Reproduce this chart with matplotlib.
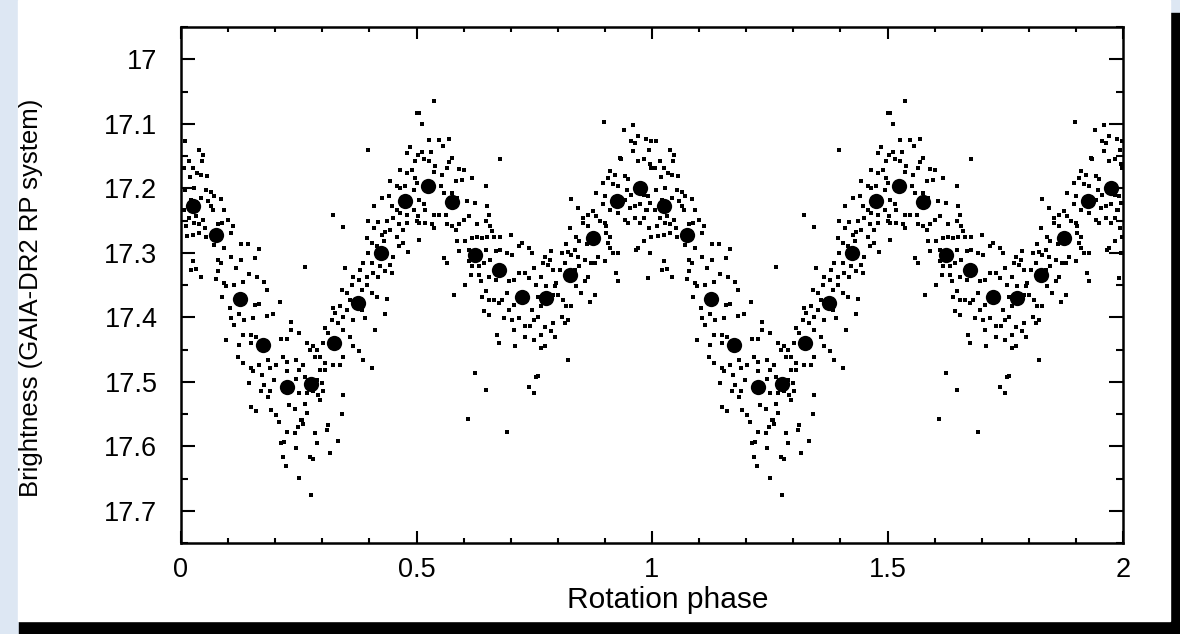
import numpy as np
import matplotlib
matplotlib.use('Agg')
import matplotlib.pyplot as plt
from matplotlib.patches import Rectangle
from matplotlib.ticker import MultipleLocator, FuncFormatter

# binned light curve, 20 bins per rotation
bin_phase = [0.025, 0.075, 0.125, 0.175, 0.225, 0.275, 0.325, 0.375, 0.425, 0.475,
             0.525, 0.575, 0.625, 0.675, 0.725, 0.775, 0.825, 0.875, 0.925, 0.975]
bin_mag = [17.228, 17.273, 17.371, 17.443, 17.508, 17.504, 17.440, 17.378, 17.300, 17.220,
           17.196, 17.222, 17.303, 17.326, 17.368, 17.370, 17.334, 17.277, 17.220, 17.199]

dots = [
    (0.008, 17.127), (0.039, 17.141), (0.046, 17.149), (0.044, 17.157), (0.016, 17.158),
    (0.007, 17.168), (0.025, 17.169), (0.034, 17.176), (0.042, 17.179), (0.055, 17.181),
    (0.020, 17.182), (0.008, 17.202), (0.028, 17.199), (0.053, 17.202), (0.064, 17.206),
    (0.071, 17.212), (0.085, 17.216), (0.021, 17.218), (0.042, 17.215), (0.057, 17.219),
    (0.007, 17.233), (0.018, 17.246), (0.032, 17.243), (0.046, 17.249), (0.064, 17.228),
    (0.067, 17.233), (0.092, 17.234), (0.011, 17.259), (0.028, 17.254), (0.039, 17.256),
    (0.050, 17.262), (0.078, 17.256), (0.088, 17.254), (0.099, 17.249), (0.110, 17.259),
    (0.013, 17.274), (0.025, 17.272), (0.039, 17.270), (0.053, 17.275), (0.106, 17.270),
    (0.071, 17.288), (0.092, 17.293), (0.127, 17.286), (0.142, 17.286), (0.166, 17.294),
    (0.025, 17.313), (0.021, 17.326), (0.032, 17.325), (0.042, 17.338), (0.078, 17.311),
    (0.085, 17.316), (0.106, 17.306), (0.117, 17.324), (0.127, 17.312), (0.157, 17.308),
    (0.078, 17.329), (0.074, 17.340), (0.092, 17.347), (0.096, 17.352), (0.113, 17.350),
    (0.131, 17.345), (0.145, 17.333), (0.161, 17.338), (0.177, 17.345), (0.183, 17.357),
    (0.088, 17.368), (0.103, 17.386), (0.106, 17.401), (0.113, 17.412), (0.124, 17.395),
    (0.134, 17.405), (0.152, 17.401), (0.157, 17.381), (0.166, 17.380), (0.183, 17.398),
    (0.195, 17.395), (0.211, 17.376), (0.096, 17.435), (0.124, 17.443), (0.131, 17.427),
    (0.149, 17.427), (0.149, 17.440), (0.159, 17.431), (0.212, 17.433), (0.226, 17.433),
    (0.234, 17.420), (0.234, 17.407), (0.251, 17.425), (0.120, 17.461), (0.131, 17.471),
    (0.149, 17.479), (0.152, 17.484), (0.166, 17.474), (0.173, 17.489), (0.184, 17.466),
    (0.188, 17.479), (0.202, 17.474), (0.216, 17.461), (0.226, 17.469), (0.244, 17.466),
    (0.251, 17.482), (0.145, 17.502), (0.170, 17.515), (0.188, 17.515), (0.185, 17.523),
    (0.177, 17.505), (0.198, 17.497), (0.226, 17.484), (0.244, 17.495), (0.251, 17.518),
    (0.149, 17.539), (0.159, 17.545), (0.191, 17.544), (0.202, 17.552), (0.209, 17.562),
    (0.230, 17.536), (0.241, 17.543), (0.212, 17.595), (0.219, 17.593), (0.226, 17.578),
    (0.241, 17.579), (0.244, 17.602), (0.216, 17.616), (0.223, 17.631), (0.251, 17.649),
    (0.248, 17.570), (0.255, 17.559),
    # 0.25 - 0.5
    (0.501, 17.084), (0.486, 17.136), (0.479, 17.145), (0.497, 17.158), (0.504, 17.148),
    (0.465, 17.171), (0.479, 17.176), (0.490, 17.171), (0.497, 17.184), (0.501, 17.192),
    (0.444, 17.189), (0.458, 17.197), (0.465, 17.199), (0.476, 17.197), (0.494, 17.202),
    (0.426, 17.215), (0.441, 17.212), (0.448, 17.228), (0.458, 17.233), (0.465, 17.238),
    (0.479, 17.241), (0.494, 17.233), (0.504, 17.243), (0.409, 17.228), (0.398, 17.250),
    (0.419, 17.253), (0.437, 17.251), (0.451, 17.246), (0.462, 17.256), (0.479, 17.254),
    (0.501, 17.251), (0.409, 17.262), (0.426, 17.272), (0.433, 17.268), (0.444, 17.264),
    (0.458, 17.275), (0.472, 17.264), (0.398, 17.140), (0.322, 17.242), (0.344, 17.260),
    (0.263, 17.322), (0.394, 17.277), (0.405, 17.285), (0.416, 17.290), (0.430, 17.282),
    (0.398, 17.300), (0.405, 17.316), (0.423, 17.321), (0.444, 17.319), (0.451, 17.306),
    (0.462, 17.290), (0.472, 17.285), (0.483, 17.299), (0.387, 17.316), (0.380, 17.326),
    (0.366, 17.337), (0.394, 17.337), (0.408, 17.332), (0.419, 17.337), (0.433, 17.329),
    (0.447, 17.332), (0.348, 17.324), (0.362, 17.350), (0.377, 17.342), (0.384, 17.357),
    (0.394, 17.350), (0.405, 17.363), (0.416, 17.368), (0.437, 17.372), (0.341, 17.357),
    (0.352, 17.363), (0.359, 17.373), (0.338, 17.383), (0.323, 17.386), (0.327, 17.394),
    (0.352, 17.389), (0.384, 17.389), (0.391, 17.401), (0.433, 17.395), (0.412, 17.420),
    (0.366, 17.404), (0.345, 17.399), (0.306, 17.417), (0.313, 17.425), (0.320, 17.404),
    (0.334, 17.409), (0.345, 17.420), (0.359, 17.430), (0.366, 17.445), (0.377, 17.453),
    (0.387, 17.466), (0.405, 17.479), (0.345, 17.461), (0.338, 17.474), (0.323, 17.474),
    (0.306, 17.471), (0.295, 17.461), (0.288, 17.451), (0.274, 17.451), (0.267, 17.440),
    (0.281, 17.445), (0.302, 17.440), (0.295, 17.482), (0.285, 17.461), (0.306, 17.482),
    (0.260, 17.474), (0.263, 17.492), (0.288, 17.497), (0.299, 17.502), (0.302, 17.515),
    (0.291, 17.521), (0.281, 17.515), (0.267, 17.518), (0.263, 17.534), (0.295, 17.528),
    (0.345, 17.521), (0.267, 17.549), (0.341, 17.550), (0.256, 17.559), (0.260, 17.565),
    (0.285, 17.580), (0.309, 17.575), (0.313, 17.567), (0.334, 17.592), (0.288, 17.595),
    (0.274, 17.616), (0.281, 17.619), (0.316, 17.610), (0.277, 17.676),
    # 0.5 - 0.75
    (0.537, 17.065), (0.512, 17.101), (0.505, 17.084), (0.526, 17.125), (0.547, 17.125),
    (0.570, 17.123), (0.556, 17.135), (0.512, 17.144), (0.530, 17.144), (0.569, 17.160),
    (0.565, 17.168), (0.516, 17.155), (0.526, 17.158), (0.540, 17.166), (0.537, 17.175),
    (0.576, 17.153), (0.590, 17.170), (0.601, 17.172), (0.618, 17.184), (0.597, 17.187),
    (0.583, 17.189), (0.555, 17.180), (0.551, 17.197), (0.558, 17.208), (0.576, 17.207),
    (0.586, 17.215), (0.608, 17.220), (0.625, 17.223), (0.647, 17.197), (0.678, 17.155),
    (0.505, 17.218), (0.516, 17.225), (0.519, 17.233), (0.537, 17.241), (0.547, 17.241),
    (0.562, 17.242), (0.505, 17.254), (0.519, 17.254), (0.533, 17.256), (0.537, 17.262),
    (0.565, 17.256), (0.576, 17.259), (0.583, 17.264), (0.590, 17.256), (0.601, 17.249),
    (0.611, 17.243), (0.629, 17.256), (0.647, 17.251), (0.657, 17.259), (0.661, 17.267),
    (0.650, 17.228), (0.654, 17.241), (0.505, 17.280), (0.586, 17.282), (0.604, 17.282),
    (0.618, 17.277), (0.629, 17.275), (0.639, 17.277), (0.650, 17.275), (0.664, 17.275),
    (0.678, 17.275), (0.700, 17.273), (0.717, 17.290), (0.724, 17.285), (0.739, 17.293),
    (0.746, 17.300), (0.590, 17.298), (0.611, 17.295), (0.647, 17.295), (0.668, 17.298),
    (0.678, 17.295), (0.693, 17.300), (0.703, 17.303), (0.558, 17.308), (0.565, 17.316),
    (0.611, 17.313), (0.618, 17.321), (0.632, 17.321), (0.643, 17.316), (0.657, 17.311),
    (0.632, 17.334), (0.615, 17.334), (0.604, 17.350), (0.636, 17.344), (0.654, 17.337),
    (0.668, 17.342), (0.696, 17.344), (0.707, 17.342), (0.717, 17.332), (0.731, 17.332),
    (0.739, 17.339), (0.749, 17.324), (0.753, 17.350), (0.579, 17.366), (0.639, 17.368),
    (0.647, 17.360), (0.654, 17.374), (0.664, 17.373), (0.682, 17.373), (0.693, 17.363),
    (0.696, 17.389), (0.707, 17.381), (0.643, 17.391), (0.654, 17.396), (0.675, 17.378),
    (0.685, 17.401), (0.703, 17.404), (0.717, 17.401), (0.731, 17.414), (0.742, 17.414),
    (0.749, 17.404), (0.746, 17.389), (0.707, 17.420), (0.671, 17.427), (0.675, 17.440),
    (0.710, 17.445), (0.731, 17.430), (0.749, 17.435), (0.624, 17.486), (0.647, 17.513),
    (0.610, 17.558), (0.693, 17.578), (0.753, 17.492), (0.739, 17.508), (0.749, 17.517),
    # 0.75 - 1
    (0.898, 17.098), (0.941, 17.109), (0.960, 17.102), (0.970, 17.119), (0.956, 17.127),
    (0.963, 17.130), (0.988, 17.124), (0.997, 17.127), (0.994, 17.141), (0.960, 17.142),
    (0.931, 17.153), (0.935, 17.155), (0.970, 17.158), (0.984, 17.155), (0.995, 17.163),
    (0.998, 17.168), (0.910, 17.173), (0.921, 17.179), (0.942, 17.181), (0.949, 17.186),
    (0.907, 17.184), (0.917, 17.194), (0.896, 17.192), (0.928, 17.197), (0.946, 17.202),
    (0.956, 17.210), (0.984, 17.210), (0.992, 17.212), (0.996, 17.223), (0.990, 17.233),
    (0.988, 17.233), (0.974, 17.225), (0.942, 17.218), (0.953, 17.230), (0.963, 17.228),
    (0.900, 17.212), (0.882, 17.207), (0.896, 17.225), (0.910, 17.233), (0.928, 17.238),
    (0.942, 17.249), (0.949, 17.254), (0.963, 17.246), (0.974, 17.254), (0.984, 17.246),
    (0.993, 17.262), (0.997, 17.275), (0.829, 17.216), (0.843, 17.230), (0.854, 17.246),
    (0.864, 17.241), (0.875, 17.236), (0.882, 17.243), (0.889, 17.251), (0.900, 17.254),
    (0.903, 17.259), (0.864, 17.259), (0.854, 17.254), (0.825, 17.262), (0.839, 17.275),
    (0.846, 17.282), (0.861, 17.287), (0.903, 17.269), (0.910, 17.275), (0.907, 17.285),
    (0.910, 17.293), (0.885, 17.306), (0.900, 17.313), (0.917, 17.300), (0.928, 17.300),
    (0.967, 17.295), (0.984, 17.282), (0.996, 17.300), (0.992, 17.339), (0.970, 17.293),
    (0.818, 17.287), (0.808, 17.300), (0.822, 17.299), (0.829, 17.303), (0.836, 17.295),
    (0.843, 17.306), (0.857, 17.311), (0.871, 17.316), (0.878, 17.316), (0.846, 17.321),
    (0.836, 17.326), (0.815, 17.316), (0.804, 17.326), (0.790, 17.326), (0.783, 17.311),
    (0.772, 17.306), (0.769, 17.316), (0.786, 17.298), (0.779, 17.319), (0.765, 17.337),
    (0.776, 17.352), (0.793, 17.352), (0.797, 17.347), (0.839, 17.352), (0.850, 17.363),
    (0.857, 17.344), (0.864, 17.337), (0.868, 17.376), (0.878, 17.365), (0.924, 17.332),
    (0.928, 17.344), (0.790, 17.365), (0.800, 17.365), (0.811, 17.373), (0.818, 17.383),
    (0.829, 17.383), (0.808, 17.399), (0.822, 17.404), (0.815, 17.409), (0.790, 17.409),
    (0.786, 17.421), (0.772, 17.415), (0.765, 17.427), (0.793, 17.430), (0.772, 17.445),
    (0.765, 17.448), (0.822, 17.467), (0.758, 17.491), (0.758, 17.368), (0.765, 17.383),
    (0.758, 17.399),
]
dot_phase, dot_mag = np.array(dots).T

plt.rcParams['font.family'] = ['Liberation Sans', 'DejaVu Sans']

W, H = 1180, 634
fig = plt.figure(figsize=(W / 100, H / 100), dpi=100, facecolor='#dde7f3')
# black drop shadow + white page
fig.patches.append(Rectangle((19 / W, 0), 1 - 19 / W, 621 / H, transform=fig.transFigure,
                             color='black', zorder=-2))
fig.patches.append(Rectangle((18 / W, 13 / H), (1170 - 18) / W, 621 / H, transform=fig.transFigure,
                             color='white', zorder=-1))

ax = fig.add_axes([181 / W, 1 - 543 / H, (1123 - 181) / W, (543 - 27) / H])

for shift in (0, 1):
    ax.plot(dot_phase + shift, dot_mag, 's', color='black', ms=2.8, mew=0)
    ax.plot(np.array(bin_phase) + shift, bin_mag, 'o', color='black', ms=11, mew=0)

ax.set_xlim(0, 2)
ax.set_ylim(17.75, 16.95)
ax.xaxis.set_major_locator(MultipleLocator(0.5))
ax.xaxis.set_minor_locator(MultipleLocator(0.1))
ax.yaxis.set_major_locator(MultipleLocator(0.1))
ax.yaxis.set_minor_locator(MultipleLocator(0.05))
fmt = FuncFormatter(lambda v, p: '%g' % round(v, 3))
ax.xaxis.set_major_formatter(fmt)
ax.yaxis.set_major_formatter(fmt)

for s in ax.spines.values():
    s.set_linewidth(1.8)
ax.tick_params(which='both', direction='in', top=True, right=True, width=1.5, labelsize=19.5)
ax.tick_params(axis='x', which='major', length=8.6, pad=10)
ax.tick_params(axis='x', which='minor', length=3.8)
ax.tick_params(axis='y', which='major', length=10, pad=17)
ax.tick_params(axis='y', which='minor', length=5)

ax.set_xlabel('Rotation phase', fontsize=21.5)
ax.xaxis.set_label_coords(0.517, -0.083)
ax.set_ylabel('Brightness (GAIA-DR2 RP system)', fontsize=18.5)
ax.yaxis.set_label_coords(-0.1465, 0.475)

fig.savefig('out.png', dpi=100, facecolor=fig.get_facecolor())
